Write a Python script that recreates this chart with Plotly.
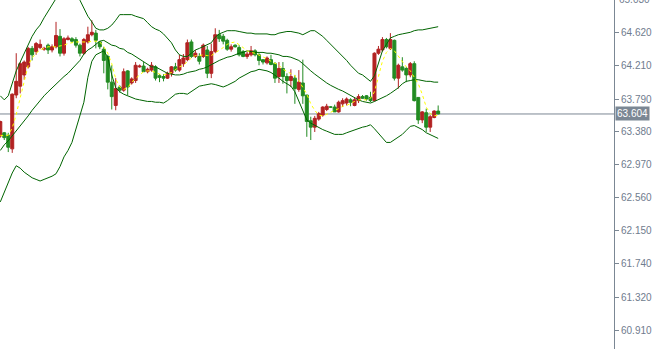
import plotly.graph_objects as go

# candle OHLC values
opens = [63.33,63.37,63.34,63.17,63.84,63.95,64.09,64.19,64.42,64.38,
         64.43,64.41,64.46,64.40,64.44,64.57,64.36,64.53,64.54,64.53,
         64.46,64.36,64.50,64.59,64.61,64.50,64.41,64.32,64.00,63.71,
         63.94,63.90,64.14,63.99,64.02,64.19,64.20,64.13,64.15,64.19,
         64.08,64.07,64.05,64.11,64.19,64.15,64.23,64.28,64.50,64.32,
         64.32,64.32,64.40,64.11,64.38,64.59,64.57,64.52,64.41,64.46,
         64.43,64.38,64.32,64.34,64.39,64.34,64.28,64.24,64.28,64.23,
         64.07,64.17,64.07,64.02,64.05,63.91,63.99,63.84,63.52,63.44,
         63.54,63.59,63.66,63.69,63.69,63.63,63.73,63.74,63.78,63.71,
         63.77,63.82,63.83,63.81,63.77,64.36,64.40,64.53,64.42,64.52,
         64.05,64.19,64.17,64.09,64.23,63.81,63.53,63.62,63.44,63.56,
         63.64]
highs = [63.52,63.38,63.37,63.86,64.36,64.25,64.27,64.44,64.45,64.50,
         64.53,64.44,64.48,64.47,64.75,64.66,64.56,64.58,64.56,64.56,
         64.48,64.55,64.69,64.77,64.65,64.51,64.44,64.34,64.21,64.05,
         63.96,64.17,64.15,64.06,64.25,64.22,64.25,64.18,64.25,64.21,
         64.10,64.10,64.13,64.20,64.24,64.34,64.35,64.53,64.53,64.40,
         64.36,64.48,64.45,64.48,64.67,64.65,64.60,64.54,64.47,64.47,
         64.46,64.40,64.38,64.45,64.41,64.36,64.28,64.32,64.34,64.25,
         64.25,64.25,64.11,64.16,64.09,64.15,64.28,63.84,63.57,63.58,
         63.63,63.70,63.73,63.70,63.72,63.77,63.80,63.81,63.80,63.81,
         63.85,63.84,63.84,63.88,64.37,64.45,64.56,64.55,64.61,64.53,
         64.23,64.31,64.19,64.25,64.26,63.81,63.64,63.67,63.59,63.65,
         63.71]
lows = [63.31,63.28,63.13,63.12,63.80,63.86,64.03,64.17,64.27,64.34,
        64.41,64.39,64.35,64.37,64.42,64.32,64.33,64.52,64.49,64.43,
        64.32,64.34,64.48,64.57,64.42,64.41,64.11,63.91,63.66,63.65,
        63.87,63.88,63.84,63.97,63.99,64.18,64.13,64.11,64.13,64.02,
        64.00,64.01,64.04,64.07,64.13,64.13,64.19,64.26,64.30,64.30,
        64.22,64.30,64.05,64.05,64.36,64.50,64.47,64.39,64.38,64.43,
        64.32,64.31,64.29,64.32,64.32,64.21,64.22,64.22,64.21,63.99,
        63.99,63.98,63.86,63.94,63.73,63.88,63.73,63.32,63.28,63.38,
        63.52,63.57,63.64,63.68,63.63,63.62,63.69,63.71,63.70,63.70,
        63.74,63.79,63.77,63.75,63.76,64.34,64.38,64.42,64.40,64.02,
        63.92,64.13,64.00,64.06,63.76,63.48,63.49,63.38,63.38,63.55,
        63.60]
closes = [63.51,63.31,63.19,63.85,64.01,64.23,64.25,64.42,64.34,64.48,
          64.47,64.42,64.40,64.44,64.58,64.36,64.54,64.55,64.51,64.46,
          64.36,64.53,64.59,64.62,64.52,64.44,64.27,64.00,63.82,63.92,
          63.90,64.13,63.94,64.04,64.21,64.20,64.13,64.16,64.21,64.05,
          64.06,64.05,64.11,64.19,64.15,64.28,64.30,64.49,64.32,64.36,
          64.26,64.46,64.11,64.38,64.59,64.54,64.51,64.41,64.44,64.44,
          64.34,64.32,64.35,64.39,64.34,64.27,64.25,64.30,64.22,64.05,
          64.17,64.07,64.02,64.07,63.92,64.00,63.83,63.51,63.44,63.55,
          63.61,63.69,63.70,63.69,63.63,63.75,63.77,63.79,63.75,63.78,
          63.82,63.80,63.79,63.77,64.36,64.41,64.53,64.44,64.53,64.05,
          64.21,64.15,64.09,64.23,63.77,63.53,63.63,63.44,63.57,63.64,
          63.604]

# Bollinger bands
bb_upper = [63.83,63.78,63.83,63.98,64.14,64.25,64.36,64.46,64.57,64.65,
            64.71,64.80,64.88,64.97,65.05,65.12,65.16,65.17,65.16,65.11,
            65.02,64.91,64.82,64.75,64.67,64.65,64.65,64.67,64.71,64.77,
            64.84,64.84,64.84,64.84,64.82,64.80,64.79,64.74,64.69,64.66,
            64.64,64.60,64.55,64.49,64.40,64.34,64.32,64.32,64.36,64.40,
            64.42,64.44,64.46,64.49,64.56,64.60,64.62,64.64,64.64,64.64,
            64.63,64.62,64.61,64.61,64.60,64.60,64.60,64.60,64.59,64.59,
            64.61,64.62,64.63,64.63,64.62,64.61,64.59,64.62,64.64,64.64,
            64.61,64.57,64.52,64.47,64.42,64.37,64.33,64.27,64.21,64.16,
            64.11,64.09,64.05,64.01,64.08,64.25,64.39,64.47,64.55,64.57,
            64.59,64.60,64.61,64.62,64.64,64.65,64.65,64.66,64.67,64.68,
            64.69]
bb_middle = [63.15,63.22,63.27,63.33,63.39,63.45,63.52,63.58,63.65,63.71,
             63.78,63.83,63.88,63.93,63.98,64.03,64.07,64.11,64.16,64.21,
             64.27,64.35,64.40,64.43,64.47,64.51,64.52,64.49,64.46,64.45,
             64.42,64.41,64.37,64.35,64.32,64.29,64.26,64.23,64.19,64.19,
             64.16,64.13,64.11,64.10,64.09,64.09,64.10,64.12,64.13,64.14,
             64.16,64.17,64.19,64.22,64.24,64.27,64.29,64.31,64.32,64.34,
             64.36,64.37,64.39,64.38,64.37,64.37,64.37,64.36,64.36,64.35,
             64.34,64.32,64.32,64.31,64.29,64.27,64.23,64.18,64.14,64.10,
             64.06,64.03,63.99,63.96,63.93,63.91,63.89,63.86,63.83,63.80,
             63.78,63.76,63.75,63.74,63.76,63.78,63.80,63.83,63.86,63.89,
             63.93,63.98,64.01,64.02,64.03,64.03,64.02,64.01,64.01,64.00,
             64.00]
bb_lower = [62.51,62.63,62.77,62.87,62.96,62.93,62.88,62.84,62.81,62.79,
            62.77,62.79,62.81,62.83,62.86,62.95,63.07,63.15,63.25,63.42,
            63.58,63.75,64.06,64.26,64.34,64.37,64.39,64.31,64.09,63.93,
            63.88,63.85,63.83,63.80,63.79,63.78,63.77,63.76,63.76,63.75,
            63.75,63.74,63.77,63.81,63.85,63.86,63.86,63.85,63.88,63.92,
            63.95,63.96,63.97,63.98,63.97,63.95,63.94,63.96,63.98,64.01,
            64.05,64.08,64.10,64.13,64.14,64.16,64.15,64.14,64.12,64.09,
            64.05,64.01,63.98,63.95,63.88,63.76,63.64,63.53,63.49,63.46,
            63.43,63.41,63.39,63.37,63.35,63.35,63.35,63.37,63.39,63.41,
            63.43,63.44,63.45,63.47,63.42,63.36,63.30,63.25,63.25,63.28,
            63.32,63.35,63.40,63.45,63.46,63.44,63.41,63.37,63.35,63.32,
            63.30]

# short moving average (yellow dotted)
ma_fast = [63.34,63.33,63.34,63.43,63.60,63.81,64.03,64.21,64.30,64.36,
           64.40,64.42,64.44,64.44,64.44,64.45,64.46,64.48,64.49,64.50,
           64.50,64.50,64.50,64.51,64.51,64.50,64.44,64.36,64.23,64.04,
           63.94,63.91,63.93,64.00,64.05,64.09,64.13,64.14,64.14,64.12,
           64.10,64.09,64.10,64.12,64.16,64.19,64.21,64.26,64.30,64.33,
           64.33,64.34,64.33,64.33,64.36,64.39,64.43,64.47,64.49,64.50,
           64.47,64.43,64.39,64.37,64.36,64.34,64.31,64.29,64.26,64.24,
           64.21,64.16,64.13,64.11,64.08,64.02,63.94,63.85,63.73,63.65,
           63.59,63.58,63.60,63.63,63.65,63.67,63.70,63.71,63.74,63.76,
           63.78,63.78,63.78,63.80,63.88,64.07,64.26,64.37,64.42,64.39,
           64.32,64.26,64.19,64.14,64.06,63.98,63.85,63.69,63.61,63.58,
           63.59]

tick_vals = [64.620, 64.210, 63.790, 63.380, 62.970, 62.560,
             62.150, 61.740, 61.320, 60.910]
tick_text = ["64.620", "64.210", "63.790", "63.380", "62.970",
             "62.560", "62.150", "61.740", "61.320", "60.910"]
top_tick_text = "65.030"   # label sitting on the top edge, mostly cut off

bars = list(range(len(closes)))
last_price = closes[-1]

BAND = "#006400"
UP = "#b22222"
DOWN = "#228b22"
AXIS = "#7b8794"
LABEL = "#6f7c8e"

fig = go.Figure()
for band in (bb_upper, bb_middle, bb_lower):
    fig.add_trace(go.Scatter(x=bars, y=band, mode="lines",
                             line=dict(color=BAND, width=1),
                             hoverinfo="skip", showlegend=False))

fig.add_trace(go.Candlestick(
    x=bars, open=opens, high=highs, low=lows, close=closes,
    increasing=dict(line=dict(color=UP, width=1), fillcolor=UP),
    decreasing=dict(line=dict(color=DOWN, width=1), fillcolor=DOWN),
    whiskerwidth=0, showlegend=False))

fig.add_trace(go.Scatter(x=bars, y=ma_fast, mode="lines",
                         line=dict(color="#ffff00", width=1, dash="dot"),
                         hoverinfo="skip", showlegend=False))

fig.add_shape(type="line", xref="paper", x0=0, x1=1, yref="y",
              y0=last_price, y1=last_price,
              line=dict(color=AXIS, width=1), layer="below")

fig.add_annotation(xref="paper", x=1, xanchor="left", xshift=3,
                   yref="paper", y=1, yanchor="middle", yshift=1,
                   text=top_tick_text, showarrow=False,
                   font=dict(family="Liberation Sans", size=10, color=LABEL))

fig.add_annotation(xref="paper", x=1, xanchor="left", xshift=1,
                   yref="y", y=last_price, yanchor="middle",
                   text=f"{last_price:.3f}", showarrow=False,
                   bgcolor=AXIS, borderpad=1,
                   font=dict(family="Liberation Sans", size=10, color="#ffffff"))

fig.update_layout(
    width=652, height=349,
    margin=dict(l=0, r=35, t=0, b=0),
    paper_bgcolor="#ffffff", plot_bgcolor="#ffffff",
    boxgap=0.25, boxgroupgap=0,
    xaxis=dict(range=[-0.075, 154.175], visible=False,
               rangeslider=dict(visible=False), fixedrange=True),
    yaxis=dict(side="right", range=[60.68, 65.022],
               tickvals=tick_vals, ticktext=tick_text,
               ticks="outside", ticklen=4, tickcolor=AXIS,
               showline=True, linecolor=AXIS, linewidth=1,
               showgrid=False, zeroline=False,
               tickfont=dict(family="Liberation Sans", size=10, color=LABEL),
               fixedrange=True),
    showlegend=False,
)

fig.write_html("out.html")
